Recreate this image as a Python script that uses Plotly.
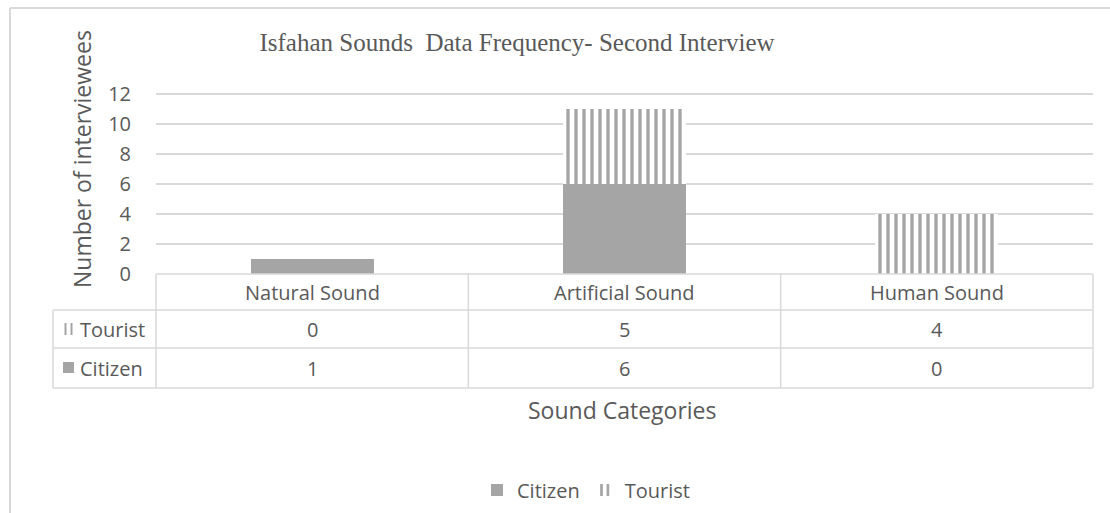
import plotly.graph_objects as go

# Interview counts per sound category
categories = ["Natural Sound", "Artificial Sound", "Human Sound"]
citizen = [1, 6, 0]
tourist = [0, 5, 4]
y_ticks = [0, 2, 4, 6, 8, 10, 12]

W, H = 1110, 513
GRID = "#d9d9d9"
TEXT = "#595959"
BAR = "#a5a5a5"
SANS = "Open Sans"


def px(x):
    return x / W


def py(y):
    return 1 - y / H


# plot area in pixels
left, right = 156, 1093
zero_y, per_unit = 274, 15.0
y_top_val = 12.2
top = zero_y - y_top_val * per_unit

fig = go.Figure()
fig.add_trace(go.Bar(
    name="Citizen", x=categories, y=citizen,
    marker=dict(color=BAR, line=dict(width=0)),
))
fig.add_trace(go.Bar(
    name="Tourist", x=categories, y=tourist,
    marker=dict(color=BAR, line=dict(width=0),
                pattern=dict(shape="|", fgcolor=BAR, bgcolor="white",
                             size=8, solidity=0.42, fillmode="replace")),
))

shapes = []


def hline(x0, x1, y, width=1.5):
    shapes.append(dict(type="line", xref="paper", yref="paper",
                       x0=px(x0), x1=px(x1), y0=py(y), y1=py(y),
                       line=dict(color=GRID, width=width)))


def vline(x, y0, y1, width=1.5):
    shapes.append(dict(type="line", xref="paper", yref="paper",
                       x0=px(x), x1=px(x), y0=py(y0), y1=py(y1),
                       line=dict(color=GRID, width=width)))


# outer chart frame (top and left edges)
hline(10, W, 8, 2)
vline(10, 8, H, 2)

# data table under the plot
row_header = (274, 310)
row_tourist = (310, 348)
row_citizen = (348, 388)
key_left = 53
hline(left, right, row_header[0])
hline(key_left, right, row_tourist[0])
hline(key_left, right, row_citizen[0])
hline(key_left, right, row_citizen[1])
vline(key_left, row_tourist[0], row_citizen[1])
vline(left, row_header[0], row_citizen[1])
vline(right, row_header[0], row_citizen[1])
for i in range(len(categories) - 1):
    shapes.append(dict(type="line", xref="x", yref="paper",
                       x0=i + 0.5, x1=i + 0.5,
                       y0=py(row_header[0]), y1=py(row_citizen[1]),
                       line=dict(color=GRID, width=1.5)))

# legend keys inside the table
for x0, x1 in [(64.5, 66.5), (70.5, 72.5)]:
    shapes.append(dict(type="rect", xref="paper", yref="paper",
                       x0=px(x0), x1=px(x1), y0=py(335), y1=py(323),
                       fillcolor=BAR, line=dict(width=0)))
shapes.append(dict(type="rect", xref="paper", yref="paper",
                   x0=px(63), x1=px(74), y0=py(373), y1=py(362),
                   fillcolor=BAR, line=dict(width=0)))

annotations = []


def mid(r):
    return py((r[0] + r[1]) / 2)


def label(text, x, y, size, xref="paper", xanchor="center", angle=0):
    annotations.append(dict(x=x, xref=xref, y=y, yref="paper", text=text,
                            xanchor=xanchor, yanchor="middle", textangle=angle,
                            showarrow=False,
                            font=dict(family=SANS, size=size, color=TEXT)))


CELL = 20
for i, cat in enumerate(categories):
    label(cat, cat, mid(row_header), CELL, xref="x")
    label(str(tourist[i]), cat, mid(row_tourist), CELL, xref="x")
    label(str(citizen[i]), cat, mid(row_citizen), CELL, xref="x")

label("Tourist", px(78), mid(row_tourist), CELL, xanchor="left")
label("Citizen", px(78), mid(row_citizen), CELL, xanchor="left")

# axis titles
label("Number of interviewees", px(82), py(159), 23, angle=-90)
label("Sound Categories", px(622), py(410), 23)

fig.update_layout(
    width=W, height=H,
    margin=dict(l=0, r=0, t=0, b=0, autoexpand=False),
    paper_bgcolor="white", plot_bgcolor="white",
    barmode="stack", bargap=0.606,
    title=dict(text="Isfahan Sounds  Data Frequency- Second Interview",
               x=px(517), xanchor="center", y=py(42), yanchor="middle",
               font=dict(family="Liberation Serif", size=25, color=TEXT)),
    xaxis=dict(domain=[px(left), px(right)], range=[-0.5, 2.5], automargin=False,
               showticklabels=False, showgrid=False, zeroline=False, showline=False),
    yaxis=dict(domain=[py(zero_y), py(top)], range=[0, y_top_val], automargin=False,
               tickvals=y_ticks, showgrid=True, gridcolor=GRID, gridwidth=1.5,
               zeroline=False, showline=False,
               ticks="outside", ticklen=20, tickcolor="rgba(0,0,0,0)",
               tickfont=dict(family=SANS, size=20, color=TEXT)),
    showlegend=True,
    legend=dict(orientation="h", traceorder="normal",
                x=px(586), xanchor="center", y=py(490), yanchor="middle",
                font=dict(family=SANS, size=20, color=TEXT),
                itemclick=False, itemdoubleclick=False),
    shapes=shapes,
    annotations=annotations,
)

fig.write_html("out.html")
